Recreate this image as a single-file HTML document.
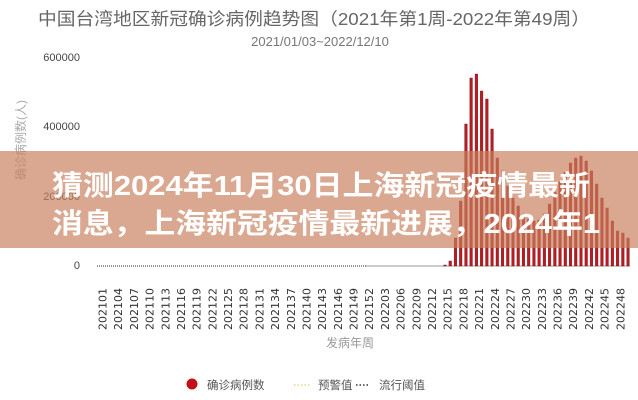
<!DOCTYPE html>
<html><head><meta charset="utf-8"><style>
html,body{margin:0;padding:0;background:#fff;}
svg{display:block;}
</style></head><body>
<svg width="638" height="400" viewBox="0 0 638 400" xmlns="http://www.w3.org/2000/svg" font-family="Liberation Sans, Noto Sans CJK SC, sans-serif">
<rect width="638" height="400" fill="#fff"/>
<text x="38" y="25" font-size="17.5" fill="#666" textLength="552" lengthAdjust="spacingAndGlyphs">中国台湾地区新冠确诊病例趋势图（2021年第1周-2022年第49周）</text>
<text x="320" y="46" font-size="13" fill="#777" text-anchor="middle">2021/01/03~2022/12/10</text>
<g font-size="11" fill="#444" text-anchor="end">
<text x="80" y="61">600000</text>
<text x="80" y="130">400000</text>
<text x="80" y="200">200000</text>
<text x="80" y="269">0</text>
</g>
<text transform="translate(25,140) rotate(-90)" font-size="12" fill="#aaa" text-anchor="middle">确诊病例数(人)</text>
<line x1="97" y1="266" x2="366" y2="266" stroke="#555" stroke-width="1.2" stroke-dasharray="1,1"/>
<line x1="366" y1="266" x2="630" y2="266" stroke="#999" stroke-width="1"/>
<g id="bars" fill="#b81c22" stroke="#7e1014" stroke-width="0.4"></g>
<g id="xl" font-size="11" fill="#333" font-family="DejaVu Sans, sans-serif"></g>
<text x="350" y="347" font-size="12" fill="#999" text-anchor="middle">发病年周</text>
<circle cx="192" cy="384" r="5.5" fill="#c0101a"/>
<text x="207" y="389" font-size="11.5" fill="#555">确诊病例数</text>
<line x1="294" y1="385" x2="310" y2="385" stroke="#e8d27a" stroke-width="1.5" stroke-dasharray="1.5,2"/>
<text x="318" y="389" font-size="11.5" fill="#555">预警值</text>
<line x1="356" y1="385" x2="369" y2="385" stroke="#333" stroke-width="1.5" stroke-dasharray="1.5,2"/>
<text x="379" y="389" font-size="11.5" fill="#555">流行阈值</text>
<rect x="0" y="151" width="638" height="97" fill="rgb(200,125,92)" fill-opacity="0.68"/>
<g font-size="28" font-weight="bold" fill="#fff" font-family="Liberation Sans, Noto Sans CJK SC, sans-serif">
<text x="52" y="195" textLength="538" lengthAdjust="spacingAndGlyphs">猜测2024年11月30日上海新冠疫情最新</text>
<text x="52" y="233" textLength="548" lengthAdjust="spacingAndGlyphs">消息，上海新冠疫情最新进展，2024年1</text>
</g>
</svg>
<script>
var h=[1,5,28,65,142,188,192,175,167,137,108,95,80,68,60,52,47,45,46,52,62,74,84,94,103,108,110,105,95,82,68,58,45,35,33,28];
var g=document.getElementById('bars'),s='';
for(var k=0;k<h.length;k++){var x=445+k*5.23-1.3;s+='<rect x="'+x.toFixed(2)+'" y="'+(266-h[k])+'" width="2.6" height="'+h[k]+'"/>';}
g.innerHTML=s;
var xl=document.getElementById('xl'),t='';
for(var i=0;i<34;i++){var w=1+i*3,yr=2021;if(w>52){w-=52;yr=2022;}var lab=''+yr+(w<10?'0'+w:w);var cx=103+i*3*5.23+3.5;
t+='<text transform="translate('+cx.toFixed(2)+',330) rotate(-90)">'+lab+'</text>';}
xl.innerHTML=t;
</script>
</body></html>
